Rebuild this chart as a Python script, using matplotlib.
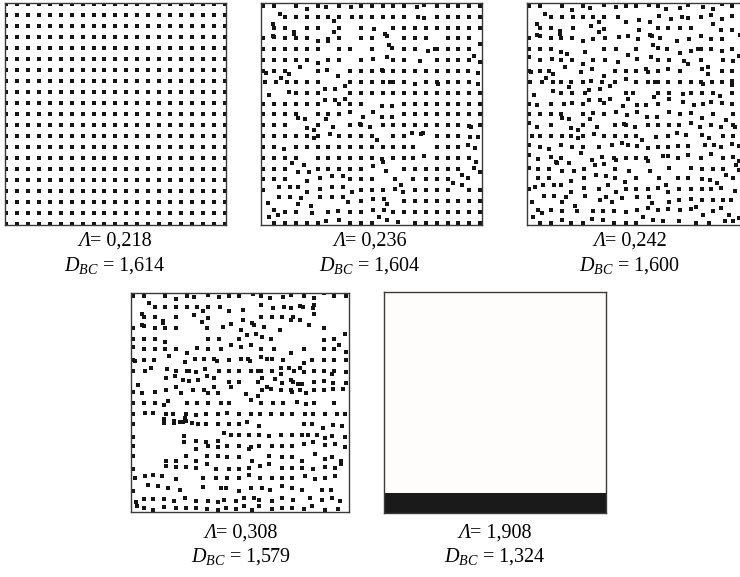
import matplotlib
matplotlib.use("Agg")
from matplotlib import pyplot as plt
from matplotlib.offsetbox import TextArea, HPacker, AnnotationBbox
import numpy as np

plt.rcParams['font.family'] = ['Liberation Serif', 'DejaVu Serif']
plt.rcParams['mathtext.fontset'] = 'custom'
plt.rcParams['mathtext.rm'] = 'Liberation Serif'
plt.rcParams['mathtext.it'] = 'Liberation Serif:italic'

# labels under each square
lam = ['0,218', '0,236', '0,242', '0,308', '1,908']
dbc = ['1,614', '1,604', '1,600', '1,579', '1,324']

# panel 1: regular lattice, 21 x 21 sites
cols1 = list(range(21))
rows1 = list(range(21))

# panels 2-4: point positions in lattice units, one line per lattice row
# "u" = point on that row, "u/v" = point with its own row coordinate
pts2 = """
0: 0 1 3 4/0.3 5 5.75/0.1 7 8.05/0.1 9 10 11 12 13 14.15/0.1 14.8/-0.1 16 17 18 19 20
1: 1.55/0.75 2 3 4 5 6 6.55/1.4 7 8.2 9 10 11 12 13 14.3 14.8/1.15 16 17 18 19 20
2: 0.85/1.7 1 2 2.85/2.4 2.85/2.6 4 5 6.55/2.4 7 9 10.25/2.15 12 13 14 15 16 17 18 19 20
3: 0 0.85/2.75 1/2.85 2 3 4 5/3.2 6/3.05 6/3.25 7 9 10 11.25/2.6 11.45/2.75 13 14 15 17 18 19 19.95/3.55
4: 0 1 2 3 4 5 7 8 10 11.55/3.6 11.9/3.9 13 14 15.2/4.15 15.8 16 17 18 19 19.4/4.6
5: 0 1 2 3 4 5/5.3 6 7 9 10.1/4.9 11.45/4.7 12 13 14.45/5.1 16 17 18 19 20/5.2
6: 0 0.25/6.15 1 2 2.35/6.3 3.4/5.6 5 5.85/5.9 8 9 10 10.9/5.9 11 12 13 14 15 16 17 18 18.85 19.85/6.15
7: 0.1 1.15 1.65/6.6 2.2 3 4 5 6.9/6.5 7.5/7.4 8 9 10 11 11.7 12 13 14/7.2 15 16 16.15/7.2 17 18 19 19.85/7.2
8: 0.5/8.25 2.35/7.9 3 4 5 5.65/7.7 6.65/7.7 8 9 10 11 12 13 14 15 16 17 18 19 20
9: 0 1 2 3 4 5 5.65/8.65 6.65/8.7 7 7.5/8.55 8 9 10.95/9.2 11.9/9.2 13 14 15 16 17 18 19 20
10: 0 1 2 3 3.2/10.3 3.8/10.45 5 5.75/10.45 6 7 8/9.8 9.2/10.2 10.1/9.75 10.95/10.2 11.9/10.2 13 14 15 16 17 18 19 20
11: 0 1 2 4/11.3 4.65/11.45 5 6.4/11.15 8 8.9/10.85 9 9.85/11.15 11 12 13 14 15 16 17 18 19/11.1 19.15/11.15 20
12: 0 1 2 3 4 4.65/12.2 5 6.1/11.85 7 8 9 10 10.5/12.35 12 13 13.7/11.7 14.55/11.85 14.7/11.7 16 17 18 19.1/12.1 19.85/12.1
13: 0 1 1.9/13.15 3 4 5 6 7 8 9 10 11 12 13 13.85 16 17 18 18.85/12.8 19.5/13.1
14: 0 1 2 2.6/14.5 3 5 6 7 8 9 10 10.9/14.15 11/14.35 12 13 13.85 14.8/13.85 16 17 18 19 19.65/14.35
15: 0 1 2 3.2/15.3 3.7/14.65 4.2/15.3 5 6 7 8 9 10.15/14.8 11.3/15.25 13 14 15 16 17 18 19.4/14.9 20/15.3
16: 0 1 2 4/16.15 5.2/15.85 6.3/15.7 7.3/15.7 8 9 10 12.1 13.85 15 16 17 17.5/16.35 18.35/15.55 18.85/15.9
17: 0 1.4/16.7 2.45/16.7 3.2/16.65 4/17.15 5.2/16.9 6.3/16.7 7.3/16.7 8.15/17.15 9 10 11 12.1/16.9 12.7/16.55 12.85/17.15 14 15 16 17 18.35/16.5 19 20
18: 0.4/18.15 1.4/17.6 2.45/17.65 3.2/18.25 3.45/17.75 4.35/18.45 5.25/17.65 6.3/17.65 7.3/17.65 7.85/18.1 9 10.1/17.8 11.1/17.8 11.45/18.3 13 14 15 16 17 18 19 20
19: 1/18.85 1.3/19.25 2 3 4.5/19.05 6 6.9/18.95 8 9 10.1/18.85 11.1/18.85 12 13 14 15 16 17 18 19 20
20: 0.5/19.5 1 2 3 4 5 5.8/19.8 7/19.7 8 9 10 10.65/19.5 11.45/19.7 12.45/19.9 14 15 16 17 18 19 20
"""

pts3 = """
0: 0 1 3 3.9/0.35 4.9 5.6/0.2 6.85/-0.1 7.95/0.1 8.9 9.85 11.05/-0.1 11.8/0.05 12.6/0.3 13.9/0.2 14.6/-0.1 15.95/0.1 16.85/0.3 17.75/-0.2 18.65/0.05
1: 1.45/0.75 2 3 4 4.9 5.85 6.4/1.45 6.85 8.15 8.9/1.45 10.1/1.3 11.1/1.45 11.95/0.9 13/1.25 14 14.55/1.15 15.75 16.75/0.85 16.85/1.7 17.75/1.25 18.65/0.9
2: 0.75/1.7 1/2.05 2 2.8/2.35 2.8/2.55 4 5.65/1.85 6.4/2.45 6.85/2.1 10.1/2.2 11.8 12.8 13.85 14.85 17.65/2.2 18.65/2.2
3: 0 0.75/2.65 1/2.8 2 2.9 3.9 4.9/3.2 5.85/3.05 7 8.25/2.9 9.05/2.75 10/3.05 11.1/2.65 11.3/2.75 12 13.6/3.2 14.65/3.05 15.75/2.75 16.75/3.05 17.75/3.05 19.35/2.65
4: 0 1 2 2.9/4.25 3.5/4.45 5.15/4.25 6.85 7.95 9.85 11.4/3.6 11.85/3.9 12.65 13.85/4.3 14.85/4.2 15.55 15.75 16.75 17.75/4.15 18.65
5: 0/4.7 1 2.1/4.9 2.9 3.9 4.9/5.35 5.85 6.95 8.15/5.15 9.1/4.55 9.95/4.9 11.2/4.7 11.85 12.85 14.25/5.1 14.55/5.35 15.75 16.4/5.6 17.85 18.75/5.05 19.25/4.65
6: 0 0.2/6.05 1 1.85 2.2/6.25 3.3/5.6 4.75/6.05 5.75/5.8 6.9/6.5 7.9 8.9 9.85 10.7/5.8 10.9/6.05 11.85 12.8/5.8 13.85 15.9/5.8 16.45/6.25 17.75 18.65/6
7: 0.1 1.15 1.55/6.6 2.2 2.9 3.8 4.9 5.65/6.9 6.7 7.85 8.9/6.75 9.85 10.9 11.55 11.8 12.8 13.9 14.85 15.8 16/7.2 16.8 17.75 18.6/7.25 18.65/6.9
8: 0.45/8.2 2.2/7.85 2.9 3.65/7.5 3.9 5.15/8 5.5/7.75 6.5/7.65 7.4/7.4 8.9 9.55/8 11.8/8.05 12.85 14.1/8.15 14.85 15.85 16.85 17.5/8.35 18.65/8.05
9: 0 0.7/9.15 2 3.2 3.95/8.95 4.9 5.5/8.65 6.5/8.65 6.9/8.95 7.45/8.55 8.65/9.2 9.1/8.55 9.95/9.1 10.7/9.15 11.5/8.4 11.8 12.85/8.55 14.1/8.85 15.1/9.15 16/9.05 16.75/8.85 17.75/8.95 18.65/9.05
10: 0 1 2 2.9 3.05/10.3 3.65/10.45 4.9 5.6/10.45 5.85/9.9 6.9 7.95/9.8 9/10.1 9.95/9.8 10.8/10.2 11.75/10.2 12.85/9.8 13.85/9.95 14.85/9.9 15.85/10.3 16.85/10 18.1/10.55 18.7/10
11: 0/10.75 0.7/11.15 2 3.85/11.3 4.5/11.4 4.9 6.25/11.15 7.85 8.7/10.85 8.9 9.7/11.15 10.9 11.85 12.85 13.8 14.85/10.75 15.65/11.15 16.75 17.65/11.2 18.7/10.95 18.9/11.15
12: 0.3 1 2 3 3.85 4.5/12.2 4.9 5.95/11.8 6.9 7.85 8.9 9.8 10.35/12.35 11.65/12.1 12.8/11.95 13.55/11.7 14.4/11.9 15.85/11.9 16.55/12.2 17.85/12 18.7/12
13: 0/12.8 1 1.8/13.15 2.9/12.8 3.95 4.95 6.4 7.65/12.8 8.5/12.65 9.1/12.8 9.95/12.95 10.95/13.1 11.85 12.8 13.7/12.9 14.6/12.9 16.2/12.8 16.95/12.8 17.65/13.05 18.6/12.75 19.3/12.9
14: 0/13.7 0.8/14.1 2/13.95 2.55/14.5 2.9 3.65/14.5 4.75/13.6 5.75/14.2 6.7/13.9 7.8/14 7.95/14.2 8.9 9.85 10.7/14.05 10.9/14.3 12.25/13.85 12.8/13.85 13.7 14.6/13.75 15.8/14.05 16.75/13.65 17.85/14.05 18.7/13.95 19.25/14.3
15: 0/14.9 0.85/15.05 1.85 2.5/14.35 3.05/15.25 4.1/15.2 5.05/15 6.05/14.65 6.9/14.55 7.85 9.2/15.25 11.1/15.2 12.85/14.9 14.85/14.9 15.85 16.85 17.85 19/14.65 19.25/15.1
16: 0.85/15.9 1.85/15.9 3.85/16.1 5.05/15.9 6.15/15.6 7.05/15.7 7.85/15.9 8.8/16.2 9.85/15.9 11.95/15.9 13.7/15.9 14.6/15.9 15.85 16.65/16.05 17.3/16.35 18.1/15.6 18.7/15.9
17: 0/16.9 0.5/16.7 1.25/16.5 2.25/16.5 2.9/16.55 3.85/17.15 5.05/16.8 6.4/16.9 7.2/16.55 8/17.15 8.9/16.9 9.85/16.9 10.9/16.9 11.85/16.75 12.55/16.5 12.8/17.15 13.8/16.9 14.85/16.9 15.85/16.9 16.75/16.9 17.65/16.75 18.9/17.05
18: 0.3/18.05 1.35/17.55 2.25/17.55 3.05/18.1 3.35/17.65 4.2/18.4 5.1/17.55 6.55/17.9 7.05/17.65 7.65/18.05 8.55/17.75 9.95/17.65 11.05/17.65 11.3/18.2 12.85/18.05 13.8/17.9 14.85/17.8 15.85/17.9 16.85/17.9 17.8/17.85 18.55/17.85
19: 0.85/18.85 1.15/19.05 2/18.85 3/18.9 4.35/18.9 5.85/18.9 6.8/18.9 7.8/18.95 8.9/19 9.95/18.85 10.95/18.65 11.85/18.85 12.8/18.7 13.85/18.85 14.85/18.7 15.35/18.5 16/19.25 16.85/18.9 17.65/18.65 18.35/19.25
20: 0.35/19.5 1 2 3/19.7 3.85 4.9 5.75/19.65 6.8/19.7 7.8 8.9 9.85 10.45/19.5 11.35/19.7 12.3/19.85 13.8/19.85 15.35/20.05 16.55/20 17.95/19.85 18.7/19.85 19.25/19.55
"""

pts4 = """
0: 0 1 3 4/0.3 5 5.7/0.1 7/-0.1 8/0.1 9 9.9 11.2/-0.2 11.95 12.8/0.2 14/0.1 14.75/-0.1 15.95 16.9/0.2 17.85/-0.25 18.8 19.9
1: 1.5/0.7 2.05 3 4 5 5.95 6.55/1.45 7 8.15 9/1.4 10.25/1.3 12/0.85 13.05/1.15 14.1 14.75/1.15 15.65/0.95 15.9 16.9/0.8 16.8/1.15
2: 0.8/1.7 1 2.05 2.8/2.3 2.8/2.55 4 5.7/1.75 6.45/2.45 7/2.05 10.25/2.2 12 12.95 13.95 14.75/2.2 14.95/2 15.65/2.25 16.9/1.7
3: 0 0.8/2.7 1/2.8 2.05 3 4 6.95/2.95 8.4/2.9 9.15/2.65 10.1/3.15 11.15/2.55 11.35/2.7 12.25/2.9 13.7/3.15 16.45/2.7 17.9
4: 0 1 2.05 3/4.3 7 8 9.95/4.05 10.7/3.65 11.5/3.6 12.1/3.8 12.9/4.05 17.9/4.1 18.8 19.8/3.6
5: 0/4.75 1 2.05 3 4 5/5.3 5.95/4.9 7 8.25 9.2/4.55 10.1/4.8 11/4.6 11.95 13.2 14.75/5.3 15.95 17.9 18.8 19.3/4.6 19.9/5.2
6: 0 0.2/6.1 1 2 3.35/5.6 4.85/6.15 5.75/5.85 6.6/5.85 7.55/5.85 7.85/6.05 9 10.05/5.85 10.75/5.85 10.95/6.05 11.95/5.7 12.55/5.85 12.95/5.85 14 15.95/6.25 16.75 17.9 18.8 19.9
7: 0 1.1 1.65/6.7 3.2/6.8 4 5 5.25 5.9/7.1 6.75/6.85 8/7.05 9/7.05 9.95 11 11.7 11.95 12.95 13.85/6.7 13.85/7.25 14.6/6.7 15.05 15.65/6.7 15.95/7.1 16.9 17.9 18.65/7.3 18.8 19.9/7.1
8: 0.45/8.3 3.1/7.7 3.95/7.5 4.65/7.9 5.25/7.95 6.05/7.9 6.9/7.5 7.55/7.7 9 9.9 11.65/8.05 12.1/7.7 13.25/7.75 13.95/8.1 14.75/7.9 15 15.4/8.2 15.8/8.2 16.9 17.85/7.95 18.75/8.1 19.9/8.1
9: 0/8.95 0.8/9.1 2.05 3.1/8.75 4/8.55 4.5/9.1 5.6/8.75 6.6/8.8 7/9.1 7.55/8.55 7.95/9.1 9.2/8.55 10.55/9.2 11.65/9.4 12.1/8.75 12.5/8.55 12.9/8.7 13.8/8.75 14.75/8.75 14.9/8.95 15.65/8.75 16.15/9.1 16.9/8.75 17.9/8.75 18.75/8.7 19.65/8.7
10: 0 1 2.05 2.9/10.15 3.3/9.8 5 6 7 8.25 9 11/9.75 11.95 13.05 14/10.05 15.35/9.95 16.15/10.1 16.9 18.8/10.05
11: 0 1.1/10.9 1.9/10.9 3.05/11.05 3.75/11.05 4.95/11.05 5.9/11.1 6.8 7.9 8.8/10.9 9.9/11.05 11/11.05 11.9 12.9 13.95 14.85 16.1 16.85/11.05 17.95/11.05 19.05/11.05 19.8/11.05 2.85/11.5 3.8/11.65 4.9/11.45 4.65/11.8
12: 0 2.85/11.9 3.85/11.9 4.4/11.75 4.95/11.65 5.55/11.85 6.1/11.95 6.8 7.9 9 9.9 10.7/11.8 11.75/12.15 15.95/11.95 16.7 17.8/12.3 18.75/12.05 19.5/12.15
13: 0/13.15 4.8/13.05 5.9/13.55 6.8/13.65 7.9/13.55 8.5/12.85 9.2 9.9 10.85 11.75 12.7/13.05 13.85 14.85 15.8 16.4 17.2 17.95/13.25 18.65/13.05 19.8/13.15
14: 0 4.8/13.7 5.9/14.3 7.05 7.9/14.15 8.8 9.9 10.85/14.3 11/14.15 11.75 13 13.95 14.85 15.95/13.85 16.85/13.7 17.95/13.9 18.9/13.85 19.8/14.15
15: 0/14.95 3.1/15.4 4/15.4 4.95 5.9/15.4 6.95/14.95 7.9 8.8/15.1 9.9/15.1 11.15/15.4 12.7 13.95/15.1 14.85/15.1 15.8/15.4 17/14.8 17.95/15.25 18.6/15.1 19.45/15.4
16: 0/16.15 3.1/15.9 4 4.95 5.9/16.05 6.95/15.75 7.75/16.2 9/16.2 9.9/16.2 10.85/16.05 11.9/15.9 12.7/15.75 13.95/16.05 14.85/16.05 15.8/16.05 16.85/16.2 17.95 18.9/16.05 19.45/15.75
17: 0.15/17.05 1.1/16.85 1.85/16.7 2.7/16.85 4/17.15 6.5/17.05 7.8/17.05 8.8/17.05 9.9/17.05 10.85/16.7 11.9/17.05 13/17.05 13.95/17.05 14.85/17.05 16.1/16.85 17/17.15 17.95/17.05 18.9/16.85
18: 0/18.2 1.4/17.7 2.3/17.8 3.25/17.95 4.35/18.1 6.5/17.9 8.2/17.95 8.65/17.95 9.9/18.25 11/17.95 12.05/17.95 12.85/18.1 13.95/17.8 14.85/17.95 15.8/18.1 17.65/18.1 18.5/18.1
19: 0.3/19.25 1/19 1.9/19 2.85/18.95 3.85/19.15 4.9/18.85 5.9/19.2 7.05/19.15 7.9/19.25 8.5/19.1 9.6/19.15 10.35/18.85 11.3/18.85 11.75/19.1 13/19.15 13.95/18.85 15/19.05 16.55/18.85 17.65/19.1 18.6/18.85 19.35/19.2
20: 0.35/19.65 1/19.8 1.85 2.85/19.75 4/19.85 4.95/19.8 5.9/19.8 6.95/19.95 7.9/20.05 8.65/19.8 9.6/19.95 10.35/19.65 11.15/20.05 11.75/19.65 13/19.95 13.95/19.8 14.85/19.8 15.95/19.95 16.7/19.65 17.95/20.05 19.2/19.95
"""

# panel 5: all particles packed into a band at the bottom (lattice units)
band_top = 18.3


def parse(block):
    xs, ys = [], []
    for line in block.strip().splitlines():
        row, items = line.split(':')
        for it in items.split():
            if '/' in it:
                u, v = it.split('/')
            else:
                u, v = it, row
            xs.append(float(u))
            ys.append(float(v))
    return np.array(xs), np.array(ys)


gx, gy = np.meshgrid(cols1, rows1)
panels = [
    (gx.ravel(), gy.ravel()),
    parse(pts2),
    parse(pts3),
    parse(pts4),
    None,
]

# axes boxes in figure fractions
boxes = [
    [0.0064, 0.610, 0.299, 0.385],
    [0.3531, 0.610, 0.2986, 0.385],
    [0.7122, 0.610, 0.300, 0.385],
    [0.1770, 0.1127, 0.2946, 0.3795],
    [0.5190, 0.1109, 0.300, 0.3825],
]
label_x = [115, 370, 630, 241, 495]
label_y = [(241, 266), (241, 266), (241, 266), (533, 557), (533, 557)]

W, H = 740, 577
fig = plt.figure(figsize=(W / 100, H / 100), dpi=100)
fig.patch.set_facecolor('white')

fs = 14.5
dot = '#151515'
for i, b in enumerate(boxes):
    ax = fig.add_axes(b)
    ax.set_xticks([])
    ax.set_yticks([])
    for s in ax.spines.values():
        s.set_color('#3a3a3a')
        s.set_linewidth(1.0)
    if i == 0:
        ax.set_xlim(-0.12, 20.12)
        ax.set_ylim(20.12, -0.12)
    else:
        ax.set_xlim(-0.2, 20.2)
        ax.set_ylim(20.2, -0.28)
    if panels[i] is not None:
        x, y = panels[i]
        ax.scatter(x, y, s=5.5, marker='s', color=dot, linewidths=0)
    else:
        ax.set_facecolor('#fefdfb')
        ax.axhspan(band_top, 20.2, color='#1a1a1a', lw=0)

    # "Λ= value" with italic Λ (mathtext keeps capital Greek upright)
    line1 = HPacker(children=[
        TextArea('Λ', textprops=dict(style='italic', size=fs)),
        TextArea('= ' + lam[i], textprops=dict(size=fs)),
    ], align='baseline', pad=0, sep=0)
    fig.add_artist(AnnotationBbox(line1, (label_x[i] / W, 1 - label_y[i][0] / H),
                                  xycoords='figure fraction', frameon=False,
                                  box_alignment=(0.5, 0.5), pad=0))
    fig.text(label_x[i] / W, 1 - label_y[i][1] / H,
             r'$D_{BC}$ = ' + dbc[i], ha='center', va='center', fontsize=fs)

fig.savefig('out.png', dpi=100, facecolor='white')
